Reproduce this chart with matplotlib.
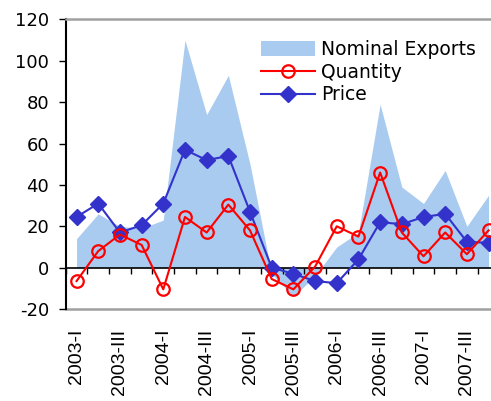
import numpy as np
import matplotlib.pyplot as plt

plt.rcParams['axes.unicode_minus'] = False

quarters = ['2003-I', '2003-II', '2003-III', '2003-IV',
            '2004-I', '2004-II', '2004-III', '2004-IV',
            '2005-I', '2005-II', '2005-III', '2005-IV',
            '2006-I', '2006-II', '2006-III', '2006-IV',
            '2007-I', '2007-II', '2007-III', '2007-IV']
nominal = [14, 26, 20, 19, 23, 110, 74, 93, 50, -3,
           -14, -4, 10, 17, 79, 39, 31, 47, 20, 35]
quantity = [-6.5, 8, 16, 11, -10.5, 24.5, 17, 30.5, 18, -5.5,
            -10.5, 0.5, 20, 15, 46, 17, 5.5, 17, 6.5, 18]
price = [24.5, 31, 17, 20.5, 31, 57, 52, 54, 27, 0,
         -3, -6.5, -7.5, 4, 22, 21, 24.5, 26, 12.5, 12]

x = np.arange(len(quarters))

fig = plt.figure(figsize=(4.91, 4.01), dpi=100)
# plot area runs a bit past the right edge of the figure
ax = fig.add_axes([65.7 / 491, 1 - 309 / 401, (499.4 - 65.7) / 491, (309 - 19.5) / 401])

ax.fill_between(x, 0, nominal, color='#A9CBEF', lw=0, label='Nominal Exports', zorder=1)
ax.plot(x, price, color='#3333CC', marker='D', ms=8.5, lw=1.5, label='Price', zorder=3)
ax.plot(x, quantity, color='#FF0000', marker='o', ms=9, mfc='none', mew=1.6,
        lw=1.5, label='Quantity', zorder=4)

ax.set_xlim(-0.5, len(quarters) - 0.5)
ax.set_ylim(-20, 120)
ax.set_yticks(range(-20, 121, 20))
ax.tick_params(axis='y', direction='out', length=5, width=1, pad=7, labelsize=13)

# zero line with category tick marks
ax.spines['bottom'].set_position(('data', 0))
ax.spines['bottom'].set_color('black')
ax.spines['bottom'].set_linewidth(1.2)
ax.spines['bottom'].set_zorder(2)
ax.set_xticks(np.arange(-0.5, len(quarters), 1))
ax.tick_params(axis='x', direction='out', length=4, width=1, labelbottom=False)

ax.spines['left'].set_linewidth(1.5)
ax.spines['top'].set_color('#A0A0A0')
ax.spines['top'].set_linewidth(1.8)
ax.spines['right'].set_visible(False)

# quarter labels along the bottom border
sec = ax.secondary_xaxis('bottom')
sec.set_xticks(x[::2], quarters[::2], rotation=90, family='Liberation Sans', fontsize=14)
sec.tick_params(length=0, pad=14)
sec.spines['bottom'].set_color('#A0A0A0')
sec.spines['bottom'].set_linewidth(1.8)

handles, labels = ax.get_legend_handles_labels()
order = [labels.index(n) for n in ['Nominal Exports', 'Quantity', 'Price']]
fig.legend([handles[i] for i in order], [labels[i] for i in order],
           loc='upper left', bbox_to_anchor=(261 / 491, 1 - 40 / 401),
           frameon=False, fontsize=13.5, handlelength=2.9, handleheight=0.8,
           handletextpad=0.32, labelspacing=0.2, borderpad=0, borderaxespad=0)

fig.savefig('out.png', dpi=100)
